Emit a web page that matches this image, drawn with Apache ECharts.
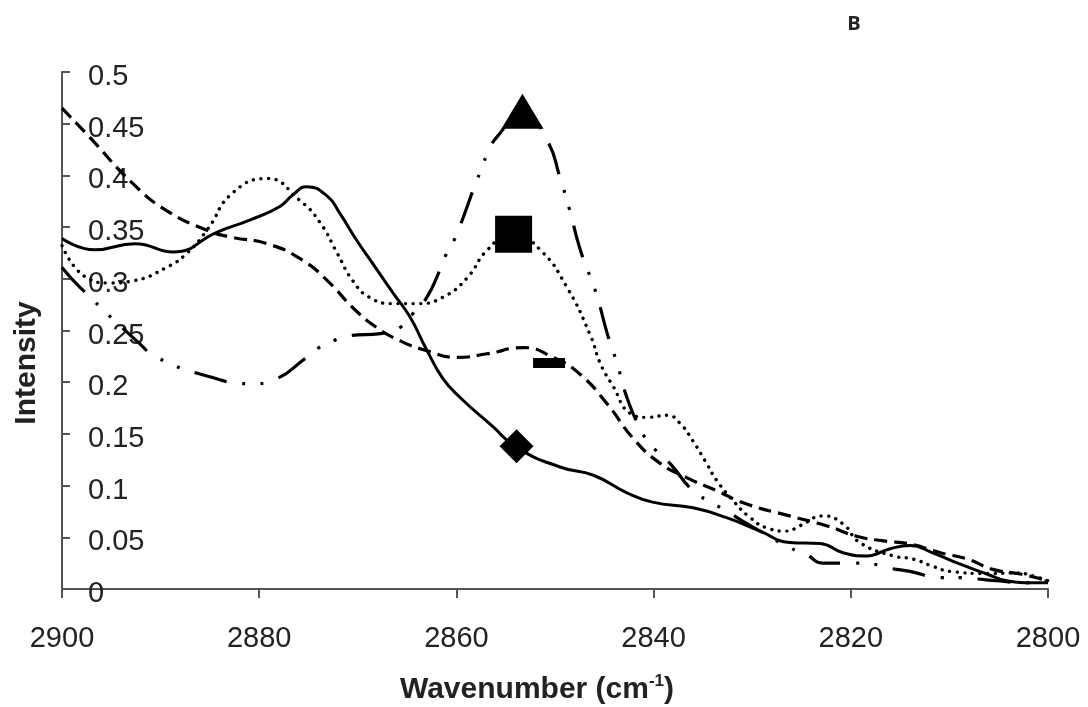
<!DOCTYPE html>
<html><head><meta charset="utf-8">
<script src="https://cdn.jsdelivr.net/npm/echarts@6/dist/echarts.min.js"></script>
<style>html,body{margin:0;padding:0;background:#fff}#c{width:1088px;height:707px}</style>
</head><body><div id="c"></div>
<script>
// ---- data ----
const xTickLabels = ['2900','2880','2860','2840','2820','2800'];
const yTickLabels = ['0','0.05','0.1','0.15','0.2','0.25','0.3','0.35','0.4','0.45','0.5'];

const solidX = [2900, 2896.7, 2892.6, 2888.7, 2884.3, 2880.9, 2877.9, 2876.6, 2875.2, 2873.1, 2871.8, 2870.1, 2868.5, 2866.4, 2864.7, 2863.0, 2861.4, 2859.6, 2856.3, 2853.9, 2849.5, 2846.1, 2842.7, 2840.1, 2836.0, 2832.6, 2829.2, 2826.2, 2823.1, 2820.8, 2818.4, 2816.0, 2814.0, 2811.7, 2808.9, 2806.2, 2804.2, 2801.5, 2800];
const solidY = [0.339, 0.328, 0.334, 0.326, 0.345, 0.357, 0.370, 0.381, 0.389, 0.380, 0.363, 0.337, 0.315, 0.286, 0.263, 0.231, 0.204, 0.185, 0.157, 0.137, 0.118, 0.110, 0.093, 0.084, 0.0785, 0.069, 0.056, 0.045, 0.044, 0.035, 0.032, 0.039, 0.042, 0.035, 0.024, 0.0145, 0.008, 0.006, 0.006];

const dotX = [2900, 2897.5, 2895.1, 2892.8, 2889.4, 2887.3, 2885.3, 2882.7, 2879.2, 2875.9, 2873.8, 2872.1, 2870.5, 2868.8, 2866.4, 2864.0, 2861.4, 2858.9, 2856.9, 2854.3, 2851.5, 2848.8, 2846.4, 2845.4, 2844.1, 2842.4, 2840.7, 2838.6, 2837.3, 2836.0, 2834.6, 2833.6, 2831.9, 2830.2, 2828.5, 2826.5, 2825.2, 2822.8, 2820.8, 2819.1, 2815.7, 2813.7, 2811.7, 2809.9, 2806.0, 2803.1, 2801.5, 2800];
const dotY = [0.332, 0.301, 0.296, 0.298, 0.311, 0.325, 0.347, 0.383, 0.397, 0.376, 0.354, 0.325, 0.298, 0.282, 0.276, 0.276, 0.282, 0.301, 0.3275, 0.344, 0.328, 0.292, 0.245, 0.218, 0.196, 0.17, 0.166, 0.168, 0.160, 0.143, 0.121, 0.105, 0.085, 0.069, 0.059, 0.056, 0.061, 0.0707, 0.063, 0.045, 0.032, 0.029, 0.022, 0.017, 0.015, 0.0155, 0.0126, 0.008];

const dashX = [2900, 2897.2, 2892.8, 2889.4, 2885.3, 2882.7, 2879.2, 2875.6, 2872.8, 2870.5, 2868.1, 2865.7, 2863.0, 2859.9, 2856.9, 2853.2, 2850.2, 2847.5, 2844.7, 2842.1, 2839.4, 2836.6, 2833.6, 2830.5, 2826.2, 2822.4, 2819.4, 2816.7, 2814.0, 2810.9, 2808.2, 2805.6, 2802.8, 2800];
const dashY = [0.465, 0.437, 0.392, 0.366, 0.347, 0.340, 0.334, 0.318, 0.2955, 0.272, 0.253, 0.240, 0.2305, 0.224, 0.2275, 0.2335, 0.224, 0.208, 0.179, 0.146, 0.122, 0.1075, 0.095, 0.082, 0.0707, 0.061, 0.051, 0.0465, 0.0436, 0.035, 0.029, 0.019, 0.0145, 0.008];

const dashDotX = [2900, 2898.2, 2892.1, 2890.4, 2885.3, 2880.9, 2878.2, 2875.6, 2874.1, 2872.5, 2870.8, 2867.7, 2865.7, 2864.4, 2863.0, 2861.7, 2861.0, 2860.1, 2859.3, 2858.3, 2857.6, 2856.9, 2855.9, 2853.2, 2850.8, 2849.5, 2848.5, 2847.5, 2846.4, 2845.7, 2844.7, 2843.7, 2842.7, 2841.4, 2840.4, 2838.3, 2836.0, 2834.0, 2832.3, 2830.5, 2829.2, 2826.2, 2824.6, 2822.8, 2819.8, 2817.7, 2816.0, 2814.0, 2810.9, 2808.9, 2807.2, 2805.2, 2802.1, 2800];
const dashDotY = [0.311, 0.292, 0.237, 0.224, 0.206, 0.1985, 0.2035, 0.221, 0.2325, 0.240, 0.245, 0.247, 0.253, 0.2665, 0.282, 0.308, 0.3245, 0.340, 0.3595, 0.386, 0.403, 0.420, 0.437, 0.460, 0.434, 0.398, 0.366, 0.330, 0.301, 0.282, 0.247, 0.218, 0.185, 0.156, 0.1405, 0.121, 0.095, 0.083, 0.0736, 0.063, 0.056, 0.040, 0.034, 0.025, 0.025, 0.024, 0.020, 0.017, 0.011, 0.011, 0.0097, 0.008, 0.006, 0.008];

// one marker per curve: diamond (solid), square (dotted), triangle (dash-dot), dash (dashed)
const markerX = [2853.9, 2854.2, 2853.3, 2850.6];
const markerY = [0.138, 0.343, 0.462, 0.2186];

// ---- chart ----
function zip(xs, ys){ const n = Math.min(xs.length, ys.length); const o=[]; for(let i=0;i<n;i++) o.push([xs[i], ys[i]]); return o; }
const FONT = 'Liberation Sans, Arial, sans-serif';
const axisColor = '#555';
const lineBase = { type:'line', showSymbol:false, symbol:'none', smooth:0.5, z:3, silent:true };

const markerStyles = [
  { symbol:'rect', symbolSize:24, symbolRotate:45 },
  { symbol:'rect', symbolSize:37 },
  { symbol:'triangle', symbolSize:[42,35] },
  { symbol:'rect', symbolSize:[32,10] }
];

const chart = echarts.init(document.getElementById('c'), null, {renderer:'canvas'});
chart.setOption({
  backgroundColor:'#fff',
  animation:false,
  grid:{ left:62, right:40, top:72, bottom:118, containLabel:false },
  xAxis:{
    type:'value', min:2800, max:2900, interval:20, inverse:true,
    axisLine:{ show:true, lineStyle:{ color:axisColor, width:2 } },
    axisTick:{ show:true, inside:false, length:9, lineStyle:{ color:axisColor, width:2 } },
    splitLine:{ show:false },
    axisLabel:{ margin:35, fontFamily:FONT, fontSize:29, color:'#222',
      formatter:(v)=>{ const i = Math.round((2900 - v)/20); return xTickLabels[i] !== undefined ? xTickLabels[i] : String(v); } }
  },
  yAxis:{
    type:'value', min:0, max:0.5, interval:0.05,
    axisLine:{ show:true, onZero:false, lineStyle:{ color:axisColor, width:2 } },
    axisTick:{ show:true, inside:true, length:8, lineStyle:{ color:axisColor, width:2 } },
    splitLine:{ show:false },
    axisLabel:{ inside:true, margin:26, fontFamily:FONT, fontSize:29, color:'#222', verticalAlign:'top', lineHeight:10,
      formatter:(v)=>{ const i = Math.round(v/0.05); return yTickLabels[i] !== undefined ? yTickLabels[i] : String(v); } }
  },
  series:[
    Object.assign({}, lineBase, { name:'solid', data:zip(solidX, solidY),
      lineStyle:{ color:'#000', width:3, type:'solid' } }),
    Object.assign({}, lineBase, { name:'dotted', data:zip(dotX, dotY),
      lineStyle:{ color:'#000', width:3.4, type:[0.1,7.5], cap:'round' } }),
    Object.assign({}, lineBase, { name:'dashed', data:zip(dashX, dashY),
      lineStyle:{ color:'#000', width:3.2, type:[13,7] } }),
    Object.assign({}, lineBase, { name:'dashdot', data:zip(dashDotX, dashDotY),
      lineStyle:{ color:'#000', width:3.2, type:[33,16,3,15,3,16] } })
  ].concat(markerX.map((x,i)=>Object.assign({
      type:'scatter', z:5, silent:true,
      itemStyle:{ color:'#000', opacity:1 },
      data:[[x, markerY[i]]]
    }, markerStyles[i]))),
  graphic:[
    { type:'text', x:537, y:690, style:{ text:'{a|Wavenumber (cm}{s|-1}{a|)}', align:'center', verticalAlign:'middle',
        rich:{ a:{ fontFamily:FONT, fontWeight:'bold', fontSize:30, fill:'#222', lineHeight:34 },
               s:{ fontFamily:FONT, fontWeight:'bold', fontSize:17, fill:'#222', verticalAlign:'top', lineHeight:34 } } } },
    { type:'text', x:27, y:363, rotation:Math.PI/2, style:{ text:'Intensity', align:'center', verticalAlign:'middle',
        font:'bold 30px Liberation Sans, Arial, sans-serif', fill:'#222' } },
    { type:'text', x:854, y:24, style:{ text:'B', align:'center', verticalAlign:'middle',
        font:'bold 20px Open Sans, Liberation Sans, sans-serif', fill:'#222' } }
  ]
});
</script>
</body></html>
